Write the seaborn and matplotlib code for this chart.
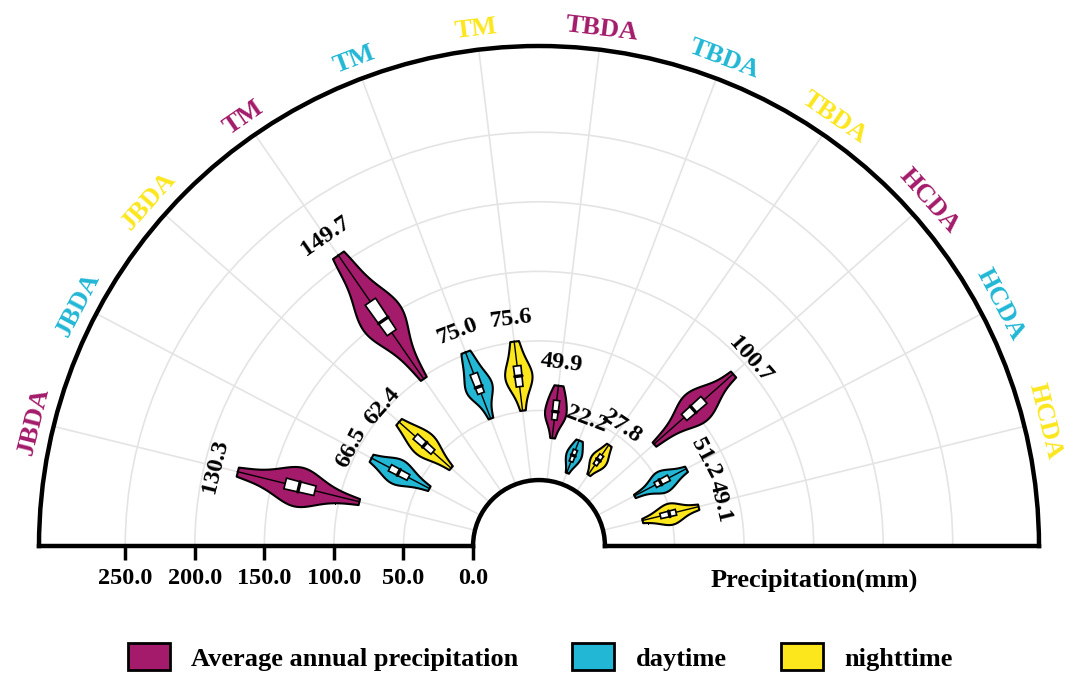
import numpy as np
import pandas as pd
import matplotlib
matplotlib.use("Agg")
import matplotlib.pyplot as plt
import seaborn as sns
from matplotlib.patches import Patch

# ---------------- data ----------------
sites = ["JBDA", "TM", "TBDA", "HCDA"]
periods = ["Average annual precipitation", "daytime", "nighttime"]
colors = ["#A31B6A", "#21B7D5", "#FCE61C"]

jbda_annual = [86, 100, 110, 116, 121, 125, 128, 130.3, 132, 135, 138, 143, 150, 160, 176]
jbda_day = [42, 50, 55, 58.6, 62, 64.5, 66.5, 68.5, 70.5, 73.6, 76, 81, 89]
jbda_night = [37.5, 46, 51, 54.5, 58, 60.5, 62.4, 64.5, 67.5, 71.3, 74, 79, 87.5]
tm_annual = [99, 115, 128, 136, 142, 146, 148, 149.7, 155, 160, 164, 168, 180, 193, 207]
tm_day = [51, 61, 67, 70, 72.5, 74, 75.0, 78, 81, 85, 89, 95, 102]
tm_night = [51, 60, 65, 68, 71, 73.5, 75.6, 77.5, 80, 83, 87, 93, 101]
tbda_annual = [31, 38, 42, 44, 46.5, 48.5, 49.9, 52, 55, 58, 60, 64, 69]
tbda_day = [9, 14, 16, 17.5, 19.5, 21, 22.2, 23.5, 25, 26.5, 28.5, 31, 34]
tbda_night = [15, 20, 22, 23.5, 25, 26.5, 27.8, 29, 30.5, 32, 34, 37, 41]
hcda_annual = [63, 76, 85, 92, 96, 99, 100.7, 104, 107, 111, 114, 122, 139]
hcda_day = [30, 38, 43, 47, 49, 50.5, 51.2, 53, 55.5, 58, 60, 64, 72]
hcda_night = [29, 36, 40, 42.5, 45, 47.5, 49.1, 50.5, 52, 54, 57, 62, 70.5]

samples = [jbda_annual, jbda_day, jbda_night,
           tm_annual, tm_day, tm_night,
           tbda_annual, tbda_day, tbda_night,
           hcda_annual, hcda_day, hcda_night]

r_ticks = [0, 50, 100, 150, 200, 250]
r_max = 312
hole = 47.4

# ---------------- style ----------------
sns.set_theme(style="white")
plt.rcParams["font.family"] = ["Liberation Serif", "DejaVu Serif"]
plt.rcParams["font.weight"] = "bold"
plt.rcParams["text.color"] = "black"
plt.rcParams["xtick.color"] = "black"
plt.rcParams["ytick.color"] = "black"

n = len(samples)
step = np.pi / (n + 1)
thetas = [np.pi - (i + 1) * step for i in range(n)]

rows = []
for i, vals in enumerate(samples):
    for v in vals:
        rows.append({"theta": thetas[i], "value": v,
                     "period": periods[i % 3], "site": sites[i // 3]})
df = pd.DataFrame(rows)

W, H = 1080, 689
fig = plt.figure(figsize=(W / 100, H / 100), dpi=100)
# square box so the half disc (radius 500 px) fills it horizontally
cx, base_y, R = 539, 546, 500
side = 2 * R
top = base_y - R / 2 - side / 2
ax = fig.add_axes([(cx - R) / W, (H - (top + side)) / H, side / W, side / H],
                  projection="polar")
ax.set_axisbelow(True)

sns.violinplot(data=df, x="theta", y="value", hue="period",
               palette=dict(zip(periods, colors)), native_scale=True,
               orient="x", dodge=False, width=0.66, density_norm="width",
               cut=0, bw_adjust=0.85, inner=None, linecolor="black",
               linewidth=1.5, saturation=1, legend=False, ax=ax)

# inner boxes and labels
box_w = 0.042
for i, vals in enumerate(samples):
    th = thetas[i]
    q1, med, q3 = np.percentile(vals, [25, 50, 75])
    ax.plot([th, th], [min(vals), max(vals)], color="black", lw=1.0, zorder=3)
    ax.bar(th, q3 - q1, width=box_w, bottom=q1, color="white",
           edgecolor="black", linewidth=1.2, zorder=4)
    ax.plot([th - box_w / 2, th + box_w / 2], [med, med], color="black",
            lw=2.4, zorder=5)
    ax.text(th, max(vals) + 16, f"{med:.1f}", rotation=np.degrees(th) - 90,
            rotation_mode="anchor", ha="center", va="center",
            fontsize=17.5, fontweight="bold", color="black", zorder=6)
    ax.text(th, 327, sites[i // 3], rotation=np.degrees(th) - 90,
            rotation_mode="anchor", ha="center", va="center",
            fontsize=19, fontweight="bold", color=colors[i % 3], clip_on=False)

ax.set_thetamin(0)
ax.set_thetamax(180)
ax.set_ylim(0, r_max)
ax.set_rorigin(-hole)
ax.set_xticks(thetas)
ax.set_xticklabels([])
ax.set_yticks(r_ticks)
ax.set_yticklabels([f"{t:.1f}" for t in r_ticks])
ax.set_xlabel("")
ax.set_ylabel("")
ax.grid(True, color="#e4e4e4", lw=1.2)
for s in ax.spines.values():
    s.set_linewidth(3.2)
    s.set_color("black")
ax.tick_params(axis="x", length=0)
ax.tick_params(axis="y", left=False, labelleft=False, right=True, labelright=True,
               direction="out", length=10, width=2.5, labelsize=17.5, pad=6,
               colors="black")

fig.text(814 / W, 1 - 580 / H, "Precipitation(mm)", ha="center", va="center",
         fontsize=19, fontweight="bold", color="black")

handles = [Patch(facecolor=c, edgecolor="black", linewidth=2) for c in colors]
fig.legend(handles=handles, labels=periods, loc="center",
           bbox_to_anchor=(0.5, 1 - 657 / H), ncol=3, frameon=False,
           handlelength=1.6, handleheight=1.15, handletextpad=0.8,
           columnspacing=2.05, prop={"weight": "bold", "size": 19},
           labelcolor="black")

fig.savefig("out.png", dpi=100)
